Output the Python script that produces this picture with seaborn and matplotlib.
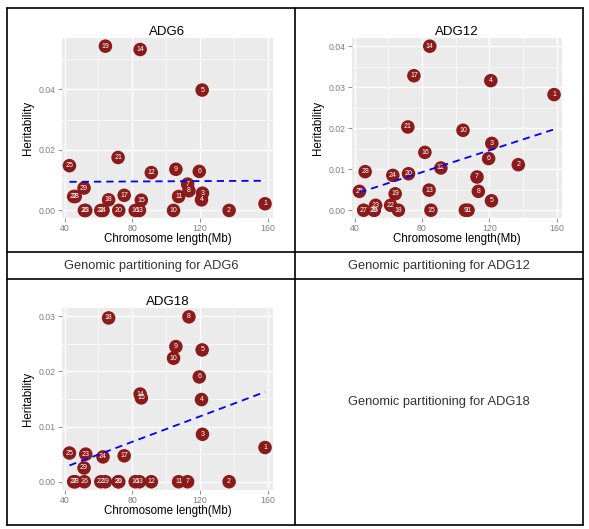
import numpy as np
import pandas as pd
import matplotlib
matplotlib.use("Agg")
import matplotlib.pyplot as plt
import seaborn as sns
from matplotlib.lines import Line2D
from matplotlib.ticker import MultipleLocator, FormatStrFormatter

# ── data ──────────────────────────────────────────────────────────────
chrom = list(range(1, 30))
length_mb = [158.3, 137.1, 121.4, 120.8, 121.2, 119.5, 112.6, 113.4, 105.7, 104.3,
             107.3, 91.2, 84.2, 84.6, 85.3, 81.7, 75.2, 66.0, 64.1, 72.0,
             71.6, 61.4, 52.5, 62.7, 42.9, 51.7, 45.4, 46.3, 51.5]

h2_adg6 = [0.0022, 0.0, 0.0057, 0.0035, 0.0398, 0.0129, 0.0087, 0.0065, 0.0136, 0.0,
           0.0046, 0.0125, 0.0, 0.0532, 0.0034, 0.0, 0.0050, 0.0035, 0.0543, 0.0,
           0.0175, 0.0, 0.0, 0.0, 0.0148, 0.0, 0.0046, 0.0046, 0.0074]

h2_adg12 = [0.0282, 0.0111, 0.0163, 0.0316, 0.0023, 0.0126, 0.0081, 0.0046, 0.0, 0.0195,
            0.0, 0.0103, 0.0049, 0.0400, 0.0, 0.0141, 0.0328, 0.0, 0.0040, 0.0089,
            0.0203, 0.0012, 0.0012, 0.0085, 0.0046, 0.0, 0.0, 0.0094, 0.0]

h2_adg18 = [0.0062, 0.0, 0.0086, 0.0149, 0.0239, 0.0190, 0.0, 0.0299, 0.0245, 0.0224,
            0.0, 0.0, 0.0, 0.0159, 0.0152, 0.0, 0.0047, 0.0297, 0.0, 0.0,
            0.0, 0.0, 0.0050, 0.0045, 0.0052, 0.0, 0.0, 0.0, 0.0025]

traits = ["ADG6", "ADG12", "ADG18"]
captions = ["Genomic partitioning for ADG6", "Genomic partitioning for ADG12",
            "Genomic partitioning for ADG18"]

W, H = 589, 529
sns.set_theme(style="darkgrid")
plt.rcParams["font.family"] = ["Liberation Sans", "DejaVu Sans"]

fig = plt.figure(figsize=(W / 100, H / 100), dpi=100)
fig.patch.set_facecolor("white")


def px_axes(x0, y0, x1, y1):
    return fig.add_axes([x0 / W, 1 - y1 / H, (x1 - x0) / W, (y1 - y0) / H])


# (trait, values, box in px, ylim, y step)
panels = [
    (traits[0], h2_adg6, (62, 38, 273, 218), (-0.0025, 0.057), 0.02),
    (traits[1], h2_adg12, (352, 38, 562, 218), (-0.0019, 0.042), 0.01),
    (traits[2], h2_adg18, (62, 308, 273, 490), (-0.0015, 0.0315), 0.01),
]

grey = "#7F7F7F"
for name, vals, box, ylim, step in panels:
    ax = px_axes(*box)
    df = pd.DataFrame({"chrom": chrom, "length": length_mb, "h2": vals})

    ax.set_facecolor("#EBEBEB")
    sns.scatterplot(data=df, x="length", y="h2", ax=ax, s=95, color="#8B1A1A",
                    edgecolor="none", zorder=3)
    for r in df.itertuples():
        ax.text(r.length, r.h2, str(r.chrom), color="white", fontsize=5,
                ha="center", va="center", zorder=4)
    sns.regplot(data=df, x="length", y="h2", ax=ax, scatter=False, ci=None,
                line_kws=dict(color="#0000FF", lw=1.3, ls=(0, (4, 2.8)), zorder=5))

    ax.set_xlim(38.5, 163)
    ax.set_ylim(*ylim)
    ax.xaxis.set_major_locator(MultipleLocator(40))
    ax.xaxis.set_minor_locator(MultipleLocator(20))
    ax.yaxis.set_major_locator(MultipleLocator(step))
    ax.yaxis.set_minor_locator(MultipleLocator(step / 2))
    ax.yaxis.set_major_formatter(FormatStrFormatter("%.2f"))
    ax.grid(which="major", color="white", lw=1.0)
    ax.grid(which="minor", color="white", lw=0.45)
    ax.set_axisbelow(True)
    for sp in ax.spines.values():
        sp.set_visible(False)
    ax.tick_params(which="major", length=3, width=0.6, color=grey, labelcolor=grey,
                   labelsize=6.3, pad=1.5, bottom=True, left=True)
    ax.tick_params(which="minor", length=0)

    ax.set_xlabel("Chromosome length(Mb)", fontsize=8.3, va="center", color="black")
    ax.xaxis.set_label_coords(0.5, -0.115)
    ax.set_ylabel("Heritability", fontsize=8.3, va="center", color="black")
    ax.yaxis.set_label_coords(-0.161, 0.5)
    ax.text(0.5, 1.035, name, transform=ax.transAxes, ha="center", va="center",
            fontsize=9.5, color="black")

# ── captions ───────────────────────────────────────────────────────────
cap_pos = [(151, 266), (439, 266), (439, 402)]
for txt, (cx, cy) in zip(captions, cap_pos):
    fig.text(cx / W, 1 - cy / H, txt, ha="center", va="center", fontsize=9.3,
             color="#333333")

# ── table lines ───────────────────────────────────────────────────────
left, right, top, bottom = 7, 583, 8, 525
for x in [left, 295, right]:
    fig.add_artist(Line2D([x / W, x / W], [1 - top / H, 1 - bottom / H],
                          color="black", lw=1.2))
for y in [top, 252, 279, bottom]:
    fig.add_artist(Line2D([left / W, right / W], [1 - y / H, 1 - y / H],
                          color="black", lw=1.2))

fig.savefig("out.png", dpi=100)
plt.close(fig)
